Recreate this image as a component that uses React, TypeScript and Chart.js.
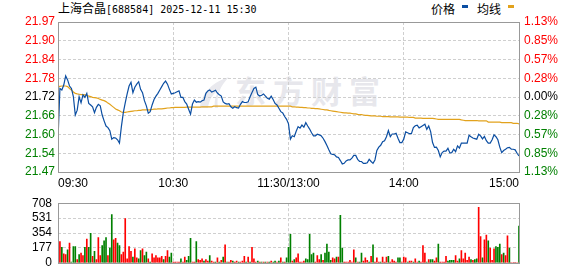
import React, { useEffect, useRef } from 'react';
import { Chart, registerables } from 'chart.js';

Chart.register(...registerables);

// ---------- text ----------
const stockName = '上海合晶';
const stockInfo = '[688584] 2025-12-11 15:30';
const legendPriceLabel = '价格';
const legendAvgLabel = '均线';
const watermarkText = '东方财富';

// ---------- axes ----------
const timeTickMinutes = [0, 60, 120, 180, 240];
const timeTickLabels = ['09:30', '10:30', '11:30/13:00', '14:00', '15:00'];
const prevClose = 21.72;
const pctSpan = 1.13;
// bottom -> top
const priceTickLabels = ['21.47', '21.54', '21.60', '21.66', '21.72', '21.78', '21.84', '21.90', '21.97'];
const pctTickLabels = ['1.13%', '0.85%', '0.57%', '0.28%', '0.00%', '0.28%', '0.57%', '0.85%', '1.13%'];
const volTickValues = [0, 177, 354, 531, 708];
const volTickLabels = ['0', '177', '354', '531', '708'];

// ---------- series (one value per minute, 09:30 .. 15:00) ----------
const prices = [
  21.58, 21.748, 21.743, 21.759, 21.789, 21.776, 21.756, 21.748, 21.721, 21.661,
  21.677, 21.721, 21.701, 21.727, 21.719, 21.732, 21.699, 21.694, 21.688, 21.669,
  21.686, 21.696, 21.691, 21.661, 21.642, 21.625, 21.62, 21.61, 21.582, 21.587,
  21.586, 21.58, 21.569, 21.623, 21.669, 21.701, 21.73, 21.756, 21.768, 21.734,
  21.752, 21.762, 21.77, 21.745, 21.734, 21.708, 21.691, 21.667, 21.672, 21.694,
  21.712, 21.723, 21.732, 21.743, 21.754, 21.765, 21.772, 21.762, 21.745, 21.73,
  21.732, 21.734, 21.737, 21.74, 21.719, 21.719, 21.705, 21.697, 21.68, 21.664,
  21.697, 21.71, 21.703, 21.705, 21.703, 21.708, 21.71, 21.732, 21.74, 21.743,
  21.736, 21.739, 21.742, 21.733, 21.727, 21.723, 21.704, 21.699, 21.697, 21.698,
  21.688, 21.683, 21.688, 21.685, 21.684, 21.696, 21.705, 21.702, 21.702, 21.704,
  21.721, 21.735, 21.748, 21.752, 21.728, 21.723, 21.726, 21.73, 21.723, 21.716,
  21.713, 21.723, 21.712, 21.699, 21.694, 21.683, 21.672, 21.668, 21.656, 21.647,
  21.632,
  21.582, 21.593, 21.59, 21.608, 21.623, 21.618, 21.628, 21.621, 21.636,
  21.625, 21.615, 21.603, 21.593, 21.593, 21.598, 21.596, 21.593, 21.585, 21.574,
  21.561, 21.547, 21.534, 21.532, 21.531, 21.524, 21.522, 21.512, 21.501, 21.503,
  21.511, 21.514, 21.514, 21.52, 21.529, 21.529, 21.516, 21.509, 21.509, 21.503,
  21.503, 21.505, 21.516, 21.509, 21.503, 21.514, 21.545, 21.556, 21.562, 21.574,
  21.577, 21.59, 21.61, 21.59, 21.599, 21.599, 21.601, 21.585, 21.571, 21.571,
  21.582, 21.606, 21.603, 21.6, 21.6, 21.62, 21.626, 21.628, 21.619, 21.623,
  21.627, 21.631, 21.614, 21.625, 21.607, 21.571, 21.555, 21.556, 21.545, 21.524,
  21.538, 21.543, 21.543, 21.552, 21.537, 21.538, 21.549, 21.541, 21.56, 21.553,
  21.569, 21.569, 21.569, 21.569, 21.595, 21.59, 21.586, 21.584, 21.582, 21.598,
  21.593, 21.583, 21.591, 21.577, 21.569, 21.569, 21.58, 21.596, 21.59, 21.58,
  21.556, 21.538, 21.545, 21.549, 21.554, 21.555, 21.549, 21.549, 21.547, 21.536,
  21.527,
];

const avgPrices = [
  21.754, 21.755, 21.756, 21.756, 21.756, 21.754, 21.748, 21.743, 21.736, 21.732,
  21.73, 21.729, 21.728, 21.728, 21.727, 21.725, 21.723, 21.721, 21.719, 21.718,
  21.717, 21.715, 21.712, 21.71, 21.708, 21.705, 21.7, 21.696, 21.691, 21.686,
  21.681, 21.678, 21.675, 21.671, 21.67, 21.67, 21.671, 21.672, 21.673, 21.674,
  21.675, 21.675, 21.676, 21.676, 21.678, 21.678, 21.678, 21.678, 21.678, 21.679,
  21.68, 21.68, 21.681, 21.681, 21.681, 21.682, 21.683, 21.684, 21.684, 21.685,
  21.685, 21.686, 21.686, 21.686, 21.686, 21.686, 21.686, 21.687, 21.687, 21.687,
  21.687, 21.687, 21.687, 21.687, 21.687, 21.688, 21.688, 21.688, 21.688, 21.688,
  21.688, 21.69, 21.69, 21.69, 21.69, 21.69, 21.69, 21.69, 21.69, 21.69,
  21.69, 21.69, 21.69, 21.69, 21.69, 21.69, 21.69, 21.69, 21.69, 21.69,
  21.69, 21.69, 21.69, 21.69, 21.69, 21.69, 21.69, 21.69, 21.69, 21.69,
  21.69, 21.69, 21.69, 21.69, 21.69, 21.69, 21.69, 21.69, 21.69, 21.69,
  21.69,
  21.69, 21.688, 21.688, 21.687, 21.687, 21.686, 21.686, 21.685, 21.685,
  21.684, 21.684, 21.683, 21.683, 21.682, 21.682, 21.681, 21.68, 21.679, 21.678,
  21.678, 21.676, 21.675, 21.674, 21.673, 21.672, 21.671, 21.67, 21.669, 21.668,
  21.668, 21.667, 21.667, 21.666, 21.665, 21.665, 21.663, 21.662, 21.662, 21.661,
  21.66, 21.66, 21.659, 21.658, 21.658, 21.658, 21.657, 21.657, 21.657, 21.656,
  21.656, 21.656, 21.656, 21.655, 21.655, 21.655, 21.655, 21.655, 21.654, 21.654,
  21.654, 21.654, 21.654, 21.653, 21.653, 21.653, 21.651, 21.651, 21.651, 21.651,
  21.65, 21.65, 21.65, 21.65, 21.65, 21.65, 21.649, 21.648, 21.647, 21.647,
  21.647, 21.647, 21.647, 21.647, 21.647, 21.647, 21.647, 21.647, 21.647, 21.647,
  21.645, 21.644, 21.643, 21.643, 21.643, 21.643, 21.643, 21.643, 21.643, 21.642,
  21.642, 21.642, 21.642, 21.642, 21.638, 21.638, 21.638, 21.638, 21.638, 21.638,
  21.638, 21.636, 21.636, 21.636, 21.636, 21.636, 21.636, 21.634, 21.634, 21.634,
  21.632,
];

const volumes = [
  0, 252, 184, 107, 97, 155, 233, 10, 194, 194,
  39, 97, 116, 87, 184, 281, 184, 349, 78, 136,
  39, 301, 87, 204, 262, 301, 87, 175, 572, 272,
  291, 233, 204, 97, 126, 524, 48, 194, 136, 68,
  165, 58, 48, 145, 165, 87, 126, 48, 10, 107,
  58, 87, 58, 58, 78, 39, 78, 145, 68, 116,
  10, 10, 10, 10, 48, 10, 68, 29, 78, 291,
  10, 10, 252, 39, 29, 48, 19, 39, 19, 87,
  19, 10, 10, 58, 10, 29, 68, 213, 10, 10,
  29, 19, 10, 19, 10, 10, 19, 78, 10, 68,
  10, 184, 48, 10, 19, 10, 10, 10, 10, 10,
  10, 19, 10, 19, 10, 19, 58, 10, 10, 58,
  184,
  339, 19, 39, 58, 107, 10, 10, 19, 48,
  39, 339, 97, 116, 10, 87, 39, 97, 29, 116,
  223, 126, 29, 58, 48, 68, 68, 563, 175, 10,
  10, 10, 29, 10, 155, 58, 10, 10, 116, 19,
  58, 29, 10, 78, 213, 10, 58, 10, 10, 68,
  10, 68, 78, 10, 39, 19, 10, 58, 58, 10,
  68, 58, 10, 19, 19, 10, 48, 10, 19, 10,
  204, 116, 10, 39, 39, 39, 19, 58, 223, 10,
  10, 10, 78, 19, 29, 29, 29, 87, 19, 48,
  145, 48, 116, 29, 68, 39, 29, 39, 48, 660,
  310, 58, 272, 330, 262, 175, 29, 165, 194, 184,
  223, 97, 116, 87, 320, 175, 0, 0, 0, 0,
  436,
];

// r = up minute (red bar), g = down minute (green bar)
const volumeSides = [
  'rrgrrgrggg', 'rgrrgrggrg', 'rrrgggrggr', 'rggrrrrrrg', 'rrggrggrgr',
  'rrrrrgrrgg', 'rrrrgrrggg', 'rrgrrrgrrg', 'rrgrgrgrgr', 'rgrrgrrrgr',
  'grrrgrgrgr', 'grggrgrgrg', 'g',
  'grgrrrrrg',
  'ggggrrrgrg', 'gggrrgrggr', 'rrrrrgrggr', 'rrgrgrrrgr', 'rrgrrrrggr',
  'rrgrrgrrgr', 'rrgrggrrgr', 'rrrggggrrg', 'rrrrrgrggr', 'rgrrgrrrgg',
  'grgrrgrrrr', 'g',
].join('');

// ---------- styles ----------
const BLUE = '#0b4ea2';
const GOLD = '#e2a21c';
const RED = '#ff0000';
const GREEN = '#008000';
const GRID = '#cfcfcf';
const FRAME = '#999999';
const AXIS_FONT = { family: '"Liberation Sans", Arial, sans-serif', size: 12 };

const framePlugin = {
  id: 'frame',
  afterDraw(chart: any) {
    const { ctx, chartArea } = chart;
    const { left, top, right, bottom } = chartArea;
    ctx.save();
    ctx.strokeStyle = FRAME;
    ctx.lineWidth = 1;
    ctx.setLineDash([]);
    ctx.strokeRect(Math.round(left) + 0.5, Math.round(top) + 0.5, Math.round(right - left), Math.round(bottom - top));
    ctx.restore();
  },
};

const yMin = prevClose * (1 - pctSpan / 100);
const yMax = prevClose * (1 + pctSpan / 100);
const priceTickValues = priceTickLabels.map((_, k) => yMin + (k * (yMax - yMin)) / (priceTickLabels.length - 1));

const sideColor = (k: number) => (k < 4 ? GREEN : k > 4 ? RED : '#000000');

export default function App() {
  const priceRef = useRef<HTMLCanvasElement>(null);
  const volRef = useRef<HTMLCanvasElement>(null);

  useEffect(() => {
    const timeAxis = (showLabels: boolean, height: number) => ({
      type: 'linear' as const,
      min: 0,
      max: 240,
      offset: false,
      afterBuildTicks: (s: any) => {
        s.ticks = timeTickMinutes.map((v) => ({ value: v }));
      },
      afterFit: (s: any) => {
        s.height = height;
      },
      ticks: {
        display: showLabels,
        callback: (_v: any, i: number) => timeTickLabels[i],
        align: 'inner' as const,
        maxRotation: 0,
        autoSkip: false,
        padding: 4,
        color: '#000000',
        font: AXIS_FONT,
      },
      grid: { color: GRID, drawTicks: false, offset: false, lineWidth: 1 },
      border: { display: false, dash: [3, 2] },
    });

    const priceChart = new Chart(priceRef.current!, {
      type: 'line',
      data: {
        datasets: [
          {
            data: prices.map((p, i) => ({ x: i, y: p })),
            borderColor: BLUE,
            borderWidth: 1.2,
            pointRadius: 0,
            tension: 0,
            yAxisID: 'y',
          },
          {
            data: avgPrices.map((p, i) => ({ x: i, y: p })),
            borderColor: GOLD,
            borderWidth: 1.2,
            pointRadius: 0,
            tension: 0,
            yAxisID: 'y',
          },
        ],
      },
      options: {
        animation: false,
        responsive: false,
        maintainAspectRatio: false,
        events: [],
        layout: { padding: { top: 22, left: 0, right: 0, bottom: 0 } },
        plugins: { legend: { display: false }, tooltip: { enabled: false }, title: { display: false } },
        scales: {
          x: timeAxis(true, 23) as any,
          y: {
            type: 'linear',
            position: 'left',
            min: yMin,
            max: yMax,
            afterBuildTicks: (s: any) => {
              s.ticks = priceTickValues.map((v) => ({ value: v }));
            },
            afterFit: (s: any) => {
              s.width = 58;
            },
            ticks: {
              callback: (_v: any, i: number) => priceTickLabels[i],
              color: (c: any) => sideColor(c.index),
              padding: 3,
              autoSkip: false,
              font: AXIS_FONT,
            },
            grid: { color: GRID, drawTicks: false },
            border: { display: false, dash: [3, 2] },
          },
          y1: {
            type: 'linear',
            position: 'right',
            min: yMin,
            max: yMax,
            afterBuildTicks: (s: any) => {
              s.ticks = priceTickValues.map((v) => ({ value: v }));
            },
            afterFit: (s: any) => {
              s.width = 59;
            },
            ticks: {
              callback: (_v: any, i: number) => pctTickLabels[i],
              color: (c: any) => sideColor(c.index),
              padding: 5,
              autoSkip: false,
              font: AXIS_FONT,
            },
            grid: { display: false, drawTicks: false },
            border: { display: false },
          },
        },
      },
      plugins: [framePlugin],
    });

    const volChart = new Chart(volRef.current!, {
      type: 'bar',
      data: {
        datasets: [
          {
            data: volumes.map((v, i) => ({ x: i, y: v })),
            backgroundColor: volumes.map((_, i) => (volumeSides[i] === 'r' ? RED : GREEN)),
            borderWidth: 0,
            barThickness: 1,
            grouped: false,
          },
        ],
      },
      options: {
        animation: false,
        responsive: false,
        maintainAspectRatio: false,
        events: [],
        layout: { padding: { top: 7, left: 0, right: 59, bottom: 6 } },
        plugins: { legend: { display: false }, tooltip: { enabled: false }, title: { display: false } },
        scales: {
          x: timeAxis(false, 0) as any,
          y: {
            type: 'linear',
            position: 'left',
            min: 0,
            max: volTickValues[volTickValues.length - 1],
            afterBuildTicks: (s: any) => {
              s.ticks = volTickValues.map((v) => ({ value: v }));
            },
            afterFit: (s: any) => {
              s.width = 58;
            },
            ticks: {
              callback: (_v: any, i: number) => volTickLabels[i],
              color: '#000000',
              padding: 6,
              autoSkip: false,
              font: AXIS_FONT,
            },
            grid: { color: GRID, drawTicks: false },
            border: { display: false, dash: [3, 2] },
          },
        },
      },
      plugins: [framePlugin],
    });

    return () => {
      priceChart.destroy();
      volChart.destroy();
    };
  }, []);

  const cjk = '"Noto Sans CJK SC", sans-serif';
  return (
    <div
      style={{
        position: 'fixed',
        left: 0,
        top: 0,
        width: 578,
        height: 276,
        background: '#ffffff',
        overflow: 'hidden',
      }}
    >
      <svg
        width={578}
        height={195}
        style={{ position: 'absolute', left: 0, top: 0 }}
      >
        <path d="M200 108 C201 95 210 83 229 77 C220 86 216 96 218 108 Z" fill="#e9e9ee" />
        <path d="M208 108 C209 100 213 93 219 90 C215 97 214 102 215 108 Z" fill="#ffffff" />
      </svg>
      <div
        style={{
          position: 'absolute',
          left: 235,
          top: 71,
          fontFamily: cjk,
          fontSize: 31,
          fontWeight: 700,
          letterSpacing: 7,
          lineHeight: '38px',
          color: '#e7e7ec',
          whiteSpace: 'nowrap',
        }}
      >
        {watermarkText}
      </div>
      <div
        style={{
          position: 'absolute',
          left: 58,
          top: 0,
          height: 16,
          lineHeight: '16px',
          fontSize: 12,
          color: '#000',
          whiteSpace: 'nowrap',
        }}
      >
        <span style={{ fontFamily: cjk }}>{stockName}</span>
        <span style={{ fontFamily: '"DejaVu Sans Mono", monospace', fontSize: 10 }}>{stockInfo}</span>
      </div>
      <div style={{ position: 'absolute', left: 431, top: 1, lineHeight: '16px', fontSize: 12, fontFamily: cjk, color: '#000' }}>
        {legendPriceLabel}
      </div>
      <div style={{ position: 'absolute', left: 462, top: 5, width: 6, height: 3, background: BLUE }} />
      <div style={{ position: 'absolute', left: 477, top: 1, lineHeight: '16px', fontSize: 12, fontFamily: cjk, color: '#000' }}>
        {legendAvgLabel}
      </div>
      <div style={{ position: 'absolute', left: 508, top: 5, width: 6, height: 3, background: GOLD }} />
      <canvas
        ref={priceRef}
        width={578}
        height={195}
        style={{ position: 'absolute', left: 0, top: 0, width: 578, height: 195 }}
      />
      <canvas
        ref={volRef}
        width={578}
        height={86}
        style={{ position: 'absolute', left: 0, top: 190, width: 578, height: 86 }}
      />
    </div>
  );
}
